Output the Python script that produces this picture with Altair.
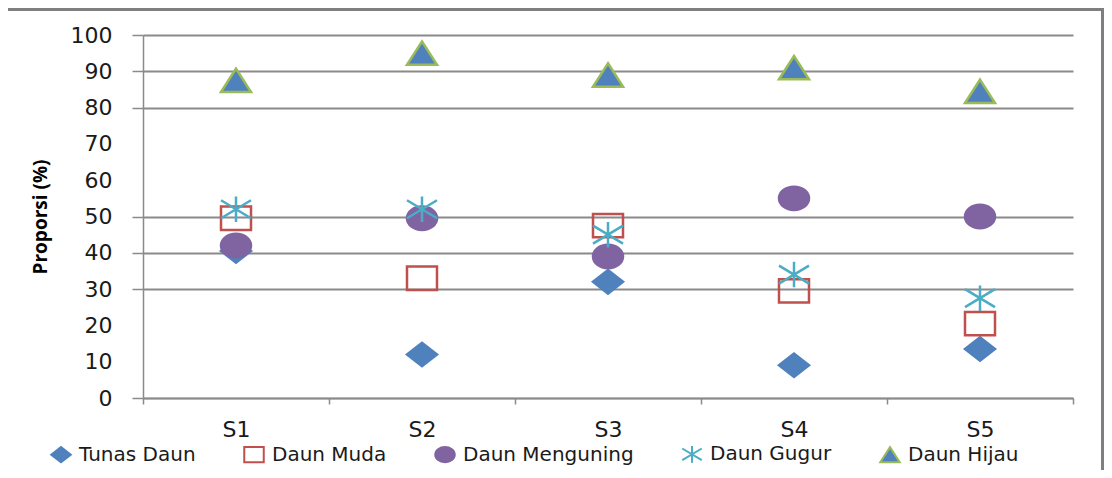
import altair as alt
import pandas as pd

kategori = ["S1", "S2", "S3", "S4", "S5"]
seri = ["Tunas Daun", "Daun Muda", "Daun Menguning", "Daun Gugur", "Daun Hijau"]
tunas_daun = [40.5, 12, 32, 9, 13.5]
daun_muda = [49.5, 33, 47.5, 29.5, 20.5]
daun_menguning = [42, 49.5, 39, 55, 50]
daun_gugur = [52, 52, 45, 34, 27.5]
daun_hijau = [87.5, 95, 89, 91, 84.5]
y_ticks = [0, 10, 20, 30, 40, 50, 60, 70, 80, 90, 100]

nilai_semua = [tunas_daun, daun_muda, daun_menguning, daun_gugur, daun_hijau]
rows = []
for s, vals in zip(seri, nilai_semua):
    for k, v in zip(kategori, vals):
        rows.append({"kategori": k, "seri": s, "nilai": v})
df = pd.DataFrame(rows)

shape_paths = [
    "M-1,0L0,-0.78L1,0L0,0.78Z",
    "M-1,-0.78L1,-0.78L1,0.78L-1,0.78Z",
    "M-1,0A1,0.78 0 1,0 1,0A1,0.78 0 1,0 -1,0Z",
    "M0,-0.85L0,0.85M-1,-0.6L1,0.6M-1,0.6L1,-0.6",
    "M0,-0.78L1,0.78L-1,0.78Z",
]
fill_colors = ["#4F81BD", "transparent", "#8064A2", "transparent", "#4F81BD"]
stroke_colors = ["#4F81BD", "#C0504D", "#8064A2", "#4BACC6", "#9BBB59"]

W, H = 930, 363
grid_col = "#8a8a8a"
hide_test = "datum.value == 10 || datum.value == 20 || datum.value == 60 || datum.value == 70"

points = alt.Chart(df).mark_point(filled=True, opacity=1, size=900, strokeWidth=2.5).encode(
    x=alt.X(
        "kategori:N",
        sort=kategori,
        scale=alt.Scale(domain=kategori, paddingInner=0, paddingOuter=0),
        axis=alt.Axis(
            title=None, labelAngle=0, tickBand="extent", tickSize=6, tickColor=grid_col,
            tickWidth=1.5, domainColor=grid_col, domainWidth=1.5, labelFont="DejaVu Sans",
            labelFontSize=22, labelColor="#1a1a1a", labelPadding=15, grid=False,
        ),
    ),
    y=alt.Y(
        "nilai:Q",
        scale=alt.Scale(domain=[0, 100], nice=False, zero=True),
        axis=alt.Axis(
            values=y_ticks, title="Proporsi (%)", titleFont="Open Sans", titleFontWeight="bold",
            titleFontSize=19, titleColor="#000000", titleAngle=270, titleX=-103, titleY=H / 2,
            titleAlign="center", titleBaseline="middle",
            labelFont="DejaVu Sans", labelFontSize=22, labelColor="#1a1a1a", labelPadding=20,
            tickSize=11, tickColor=grid_col, tickWidth=1.5,
            tickOpacity={"condition": {"test": hide_test, "value": 0}, "value": 1},
            domainColor=grid_col, domainWidth=1.5,
            grid=True, gridColor=grid_col, gridWidth=1.8,
            gridOpacity={"condition": {"test": hide_test, "value": 0}, "value": 1},
        ),
    ),
    shape=alt.Shape("seri:N", sort=seri, scale=alt.Scale(domain=seri, range=shape_paths), title=None),
    fill=alt.Fill("seri:N", sort=seri, scale=alt.Scale(domain=seri, range=fill_colors), title=None),
    stroke=alt.Stroke("seri:N", sort=seri, scale=alt.Scale(domain=seri, range=stroke_colors), title=None),
)

frame_top = alt.Chart(pd.DataFrame({"a": [0]})).mark_rule(color="#7f7f7f", strokeWidth=3).encode(
    x=alt.value(-140), x2=alt.value(962), y=alt.value(-25.5)
)
frame_right = alt.Chart(pd.DataFrame({"a": [0]})).mark_rule(color="#7f7f7f", strokeWidth=3).encode(
    x=alt.value(959.5), y=alt.value(-27), y2=alt.value(450)
)

chart = alt.layer(points, frame_top, frame_right).properties(
    width=W, height=H,
    autosize=alt.AutoSizeParams(type="none"),
    padding={"left": 135, "top": 27, "right": 31, "bottom": 72},
    background="white",
).configure_view(stroke=None).configure_legend(
    orient="none", legendX=-93, legendY=408, direction="horizontal", columns=5,
    padding=0, labelFont="DejaVu Sans", labelFontSize=20, labelColor="#1a1a1a",
    labelOffset=7, columnPadding=44, symbolSize=380, symbolStrokeWidth=2,
    labelLimit=400, title=None,
)

chart.save("out.html", embed_options={"renderer": "svg", "actions": False})
